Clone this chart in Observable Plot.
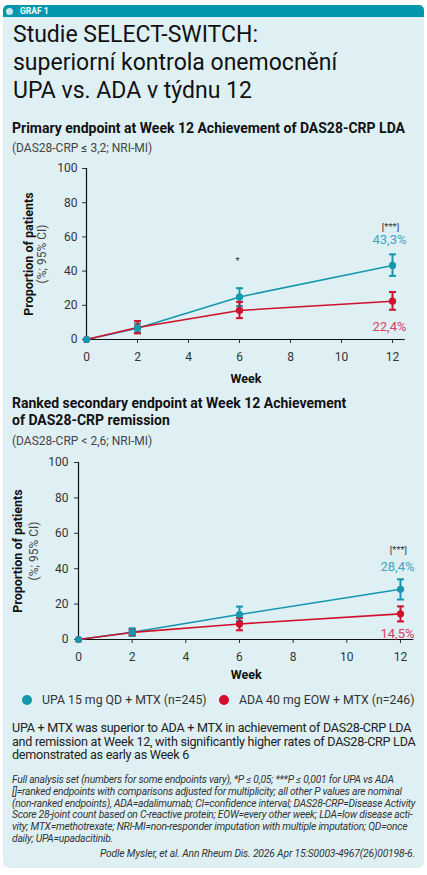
<!DOCTYPE html>
<html>
<head>
<meta charset="utf-8">
<script src="https://cdn.jsdelivr.net/npm/d3@7"></script>
<script src="https://cdn.jsdelivr.net/npm/@observablehq/plot@0.6"></script>
<style>
  html, body { margin: 0; padding: 0; background: #ffffff; }
  body { width: 427px; height: 875px; position: relative; overflow: hidden;
         font-family: Roboto, "Open Sans", sans-serif; color: #1a1a1a; }
  .abs { position: absolute; }
  .panel { left: 3px; top: 5px; width: 421px; height: 863px; background: #dff0f5; border-radius: 6px; }
  .bar { left: 3px; top: 5px; width: 421px; height: 12px; background: #0097ae; border-radius: 5px 5px 0 0; }
  .bar .dot { position: absolute; left: 3px; top: 2.5px; width: 7px; height: 7px; border-radius: 50%; background: #cce5ec; }
  .bar .lab { position: absolute; left: 17px; top: 0; line-height: 12px; font-size: 8.5px; font-weight: 700; color: #fff; }
  .title { left: 13px; top: 21px; font-size: 23px; line-height: 28px; color: #111; white-space: nowrap; }
  .h2 { left: 12px; font-size: 14px; font-weight: 700; line-height: 17px; color: #111; white-space: nowrap; }
  .sub { left: 12px; font-size: 12px; line-height: 14px; color: #444; white-space: nowrap; }
  .legend { left: 0; top: 692px; width: 427px; height: 16px; font-size: 12.3px; color: #333; }
  .legend span.sw { position: absolute; top: 3px; width: 10px; height: 10px; border-radius: 50%; }
  .legend span.tx { position: absolute; top: 0; line-height: 16px; white-space: nowrap; }
  .body { left: 12px; top: 721px; font-size: 12.6px; line-height: 13.6px; color: #222; white-space: nowrap; }
  .notes { left: 12px; top: 774px; font-size: 10.3px; line-height: 11.8px; font-style: italic; color: #333; white-space: nowrap; }
  .cite { right: 12px; top: 848px; font-size: 10.3px; line-height: 12px; font-style: italic; color: #333; white-space: nowrap; }
</style>
</head>
<body>
<div class="abs panel"></div>
<div class="abs bar"><div class="dot"></div><div class="lab">GRAF 1</div></div>
<div class="abs title">Studie SELECT-SWITCH:<br>superiorní kontrola onemocnění<br>UPA vs. ADA v týdnu 12</div>

<div class="abs h2" style="top:120px">Primary endpoint at Week 12 Achievement of DAS28-CRP LDA</div>
<div class="abs sub" style="top:141px">(DAS28-CRP ≤ 3,2; NRI-MI)</div>
<div id="chart1"></div>

<div class="abs h2" style="top:395px">Ranked secondary endpoint at Week 12 Achievement<br>of DAS28-CRP remission</div>
<div class="abs sub" style="top:434px">(DAS28-CRP &lt; 2,6; NRI-MI)</div>
<div id="chart2"></div>

<div class="abs legend" id="legend"></div>

<div class="abs body" data-fit="403"><span>UPA + MTX was superior to ADA + MTX in achievement of DAS28-CRP LDA</span><br><span>and remission at Week 12, with significantly higher rates of DAS28-CRP LDA</span><br><span>demonstrated as early as Week 6</span></div>
<div class="abs notes" data-fit="403"><span>Full analysis set (numbers for some endpoints vary), *P ≤ 0,05; ***P ≤ 0,001 for UPA vs ADA</span><br><span>[]=ranked endpoints with comparisons adjusted for multiplicity; all other P values are nominal</span><br><span>(non-ranked endpoints), ADA=adalimumab; CI=confidence interval; DAS28-CRP=Disease Activity</span><br><span>Score 28-joint count based on C-reactive protein; EOW=every other week; LDA=low disease acti-</span><br><span>vity; MTX=methotrexate; NRI-MI=non-responder imputation with multiple imputation; QD=once</span><br><span>daily; UPA=upadacitinib.</span></div>
<div class="abs cite" data-fit="315"><span>Podle Mysler, et al. Ann Rheum Dis. 2026 Apr 15:S0003-4967(26)00198-6.</span></div>

<script>
// Study visits (weeks)
const weeks = [0, 2, 6, 12];
const weekTicks = [0, 2, 4, 6, 8, 10, 12];
const pctTicks = [0, 20, 40, 60, 80, 100];

// Treatment arms
const arms = ["UPA 15 mg QD + MTX (n=245)", "ADA 40 mg EOW + MTX (n=246)"];

// DAS28-CRP LDA (≤ 3,2), % of patients with 95% CI
const upaLda   = [0, 6.6, 24.9, 43.3];
const upaLdaLo = [0, 4.2, 19.5, 37.2];
const upaLdaHi = [0, 9.3, 30.0, 49.8];
const adaLda   = [0, 7.0, 17.0, 22.4];
const adaLdaLo = [0, 3.6, 12.5, 17.4];
const adaLdaHi = [0, 10.8, 22.0, 27.8];
const ldaSignif = [{week: 6, mark: "*"}, {week: 12, mark: "[***]"}];

// DAS28-CRP remission (< 2,6), % of patients with 95% CI
const upaRem   = [0, 4.1, 14.1, 28.4];
const upaRemLo = [0, 2.0, 10.5, 22.6];
const upaRemHi = [0, 6.3, 18.6, 34.0];
const adaRem   = [0, 4.0, 8.8, 14.5];
const adaRemLo = [0, 2.5, 5.2, 10.2];
const adaRemHi = [0, 5.5, 12.2, 18.7];
const remSignif = [{week: 12, mark: "[***]"}];

const TEAL = "#1597ad", RED = "#d0102c";
const TEAL_TXT = "#3aa7bd", RED_TXT = "#d6405f";
const FONT = "Roboto, 'Open Sans', sans-serif";

function rows(val, lo, hi) {
  return weeks.map((w, i) => ({week: w, value: val[i], lo: lo[i], hi: hi[i]}));
}
const pct = v => v.toFixed(1).replace(".", ",") + "%";

// horizontal cap for error bars
const capSymbol = {
  draw(ctx, size) { const w = Math.sqrt(size / Math.PI); ctx.moveTo(-w, 0); ctx.lineTo(w, 0); }
};

function chart(upa, ada, signif, o) {
  const ci = d => d.hi > d.lo;
  const last = d => d.week === 12;
  const armMarks = (data, color) => [
    Plot.ruleX(data.filter(ci), {x: "week", y1: "lo", y2: "hi", stroke: color, strokeWidth: 2}),
    Plot.dot(data.filter(ci), {x: "week", y: "lo", symbol: capSymbol, r: 3.5, stroke: color, strokeWidth: 2, fill: "none"}),
    Plot.dot(data.filter(ci), {x: "week", y: "hi", symbol: capSymbol, r: 3.5, stroke: color, strokeWidth: 2, fill: "none"})
  ];
  const plot = Plot.plot({
    width: 427,
    height: o.height,
    marginLeft: o.left,
    marginRight: o.right,
    marginTop: o.top,
    marginBottom: o.bottom,
    style: {fontFamily: FONT, fontSize: "12px", color: "#333", background: "transparent", overflow: "visible"},
    x: {domain: [0, 12.5]},
    y: {domain: [0, 100]},
    marks: [
      Plot.axisY({ticks: pctTicks, tickSize: 4, tickPadding: o.yPad, label: null, fontSize: 12}),
      Plot.axisX({ticks: weekTicks, tickSize: 4, tickPadding: o.xPad, label: null, fontSize: 12}),
      Plot.ruleX([0], {stroke: "#111", strokeWidth: 1.2}),
      Plot.ruleY([0], {stroke: "#111", strokeWidth: 1.2}),
      Plot.line(upa, {x: "week", y: "value", stroke: TEAL, strokeWidth: 1.6}),
      Plot.line(ada, {x: "week", y: "value", stroke: RED, strokeWidth: 1.6}),
      ...armMarks(upa, TEAL),
      ...armMarks(ada, RED),
      Plot.dot(ada, {x: "week", y: "value", r: 3.6, fill: RED}),
      Plot.dot(upa, {x: "week", y: "value", r: 3.6, fill: TEAL}),
      Plot.text(upa.filter(last), {x: "week", y: "hi", text: d => pct(d.value), dy: o.upaDy, dx: o.labDx, fill: TEAL_TXT, fontSize: 13}),
      Plot.text(ada.filter(last), {x: "week", y: "lo", text: d => pct(d.value), dy: o.adaDy, dx: o.labDx, fill: RED_TXT, fontSize: 13}),
      Plot.text(signif, {x: "week", y: d => upa.find(r => r.week === d.week).hi, text: "mark", dy: o.sigDy, dx: o.sigDx, fill: "#333", fontSize: 9.5}),
      Plot.text(["Week"], {frameAnchor: "bottom", lineAnchor: "middle", dy: o.weekDy, fontWeight: "bold", fontSize: 12.5, fill: "#111"}),
      Plot.text(["Proportion of patients"], {frameAnchor: "left", textAnchor: "middle", lineAnchor: "middle", rotate: -90, dx: o.lab1Dx, fontWeight: "bold", fontSize: 12.5, fill: "#111"}),
      Plot.text(["(%; 95% CI)"], {frameAnchor: "left", textAnchor: "middle", lineAnchor: "middle", rotate: -90, dx: o.lab2Dx, fontSize: 12, fill: "#444"})
    ]
  });
  plot.style.position = "absolute";
  plot.style.left = "0px";
  plot.style.top = o.y + "px";
  return plot;
}

document.getElementById("chart1").appendChild(chart(
  rows(upaLda, upaLdaLo, upaLdaHi), rows(adaLda, adaLdaLo, adaLdaHi), ldaSignif,
  {y: 155, height: 234, top: 13, bottom: 50, left: 86, right: 22.25, yPad: 5, xPad: 9,
   upaDy: -15, adaDy: 17, labDx: -3, sigDy: -27, sigDx: -2, weekDy: 39, lab1Dx: -58, lab2Dx: -44}
));
document.getElementById("chart2").appendChild(chart(
  rows(upaRem, upaRemLo, upaRemHi), rows(adaRem, adaRemLo, adaRemHi), remSignif,
  {y: 450, height: 234, top: 12, bottom: 45, left: 78, right: 13.6, yPad: 6, xPad: 9,
   upaDy: -12, adaDy: 12, labDx: -3, sigDy: -29, sigDx: -2, weekDy: 35, lab1Dx: -61, lab2Dx: -44}
));

// legend
const legend = document.getElementById("legend");
const legendItems = [
  {label: arms[0], color: TEAL, x: 22},
  {label: arms[1], color: RED, x: 219}
];
for (const it of legendItems) {
  const sw = document.createElement("span");
  sw.className = "sw"; sw.style.left = it.x + "px"; sw.style.background = it.color;
  const tx = document.createElement("span");
  tx.className = "tx"; tx.style.left = (it.x + 20) + "px"; tx.textContent = it.label;
  legend.append(sw, tx);
}

// tighten or loosen letter spacing so the widest line of a text block fills its column
for (const block of document.querySelectorAll("[data-fit]")) {
  const target = +block.dataset.fit;
  let widest = null, w = 0;
  for (const s of block.querySelectorAll("span")) {
    const sw = s.getBoundingClientRect().width;
    if (sw > w) { w = sw; widest = s; }
  }
  if (widest) block.style.letterSpacing = ((target - w) / widest.textContent.length) + "px";
}
</script>
</body>
</html>
